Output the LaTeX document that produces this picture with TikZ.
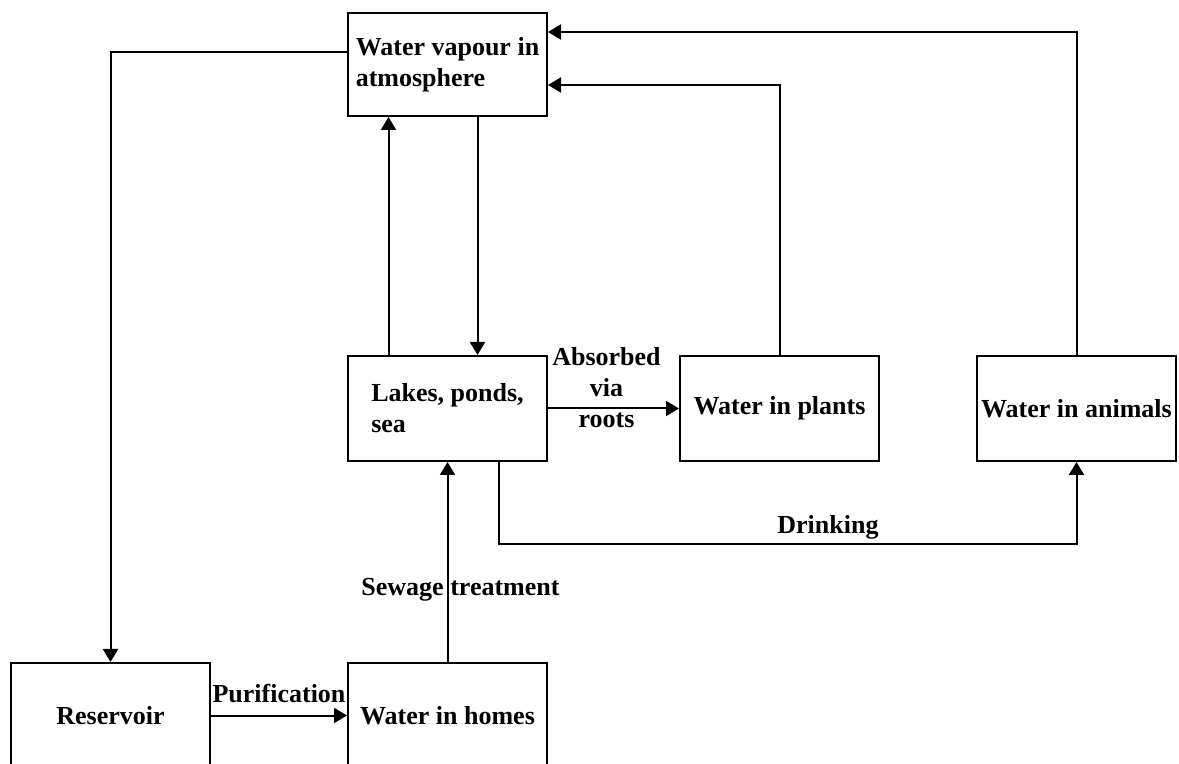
\documentclass[tikz,border=0pt]{standalone}
\usepackage{fontspec}
\setmainfont{Liberation Serif}
\usepackage{tikz}
\usetikzlibrary{arrows.meta, positioning}

\tikzstyle{store} = [rectangle, draw=black, line width=1pt, minimum width=99.5pt, minimum height=52.5pt, inner sep=1pt, align=left, font=\fontsize{13}{15.5}\selectfont\bfseries]
\tikzstyle{tag} = [inner sep=1pt, align=center, font=\fontsize{13}{15.5}\selectfont\bfseries]
\tikzstyle{flow} = [line width=1pt, -{Triangle[length=6.5pt,width=7.5pt]}]

\begin{document}
\begin{tikzpicture}

\useasboundingbox (0,0) rectangle (589.5pt,-382pt);

% Water stores
\node[store, anchor=north west, minimum height=51.5pt] (vapour) at (173.5pt,-6pt) {Water vapour in\\atmosphere};
\node[store, below=119pt of vapour] (lakes) {Lakes, ponds,\\sea};
\node[store, right=65.5pt of lakes] (plants) {Water in plants};
\node[store, right=48pt of plants] (animals) {Water in animals};
\node[store, below=100pt of lakes] (homes) {Water in homes};
\node[store, left=68pt of homes] (reservoir) {Reservoir};

% Flows between stores
\draw[flow] ([yshift=6pt]vapour.west) -| (reservoir.north);
\draw[flow] ([xshift=-29.5pt]lakes.north) -- ([xshift=-29.5pt]vapour.south);
\draw[flow] ([xshift=15pt]vapour.south) -- ([xshift=15pt]lakes.north);
\draw[flow] (lakes) -- node[tag, xshift=-3.5pt, yshift=10.5pt] {Absorbed\\via\\roots} (plants);
\draw[flow] (plants.north) |- ([yshift=-10.25pt]vapour.east);
\draw[flow] (animals.north) |- ([yshift=16.25pt]vapour.east);
\draw[flow] ([xshift=25.5pt]lakes.south) -- ++(0,-41pt) -| node[tag, pos=0.285, above=1pt] {Drinking} (animals.south);
\draw[flow] (homes.north) -- node[tag, pos=0.36, xshift=6.5pt] {Sewage treatment} (lakes.south);
\draw[flow] (reservoir) -- node[tag, above=5pt] {Purification} (homes);

\end{tikzpicture}
\end{document}
